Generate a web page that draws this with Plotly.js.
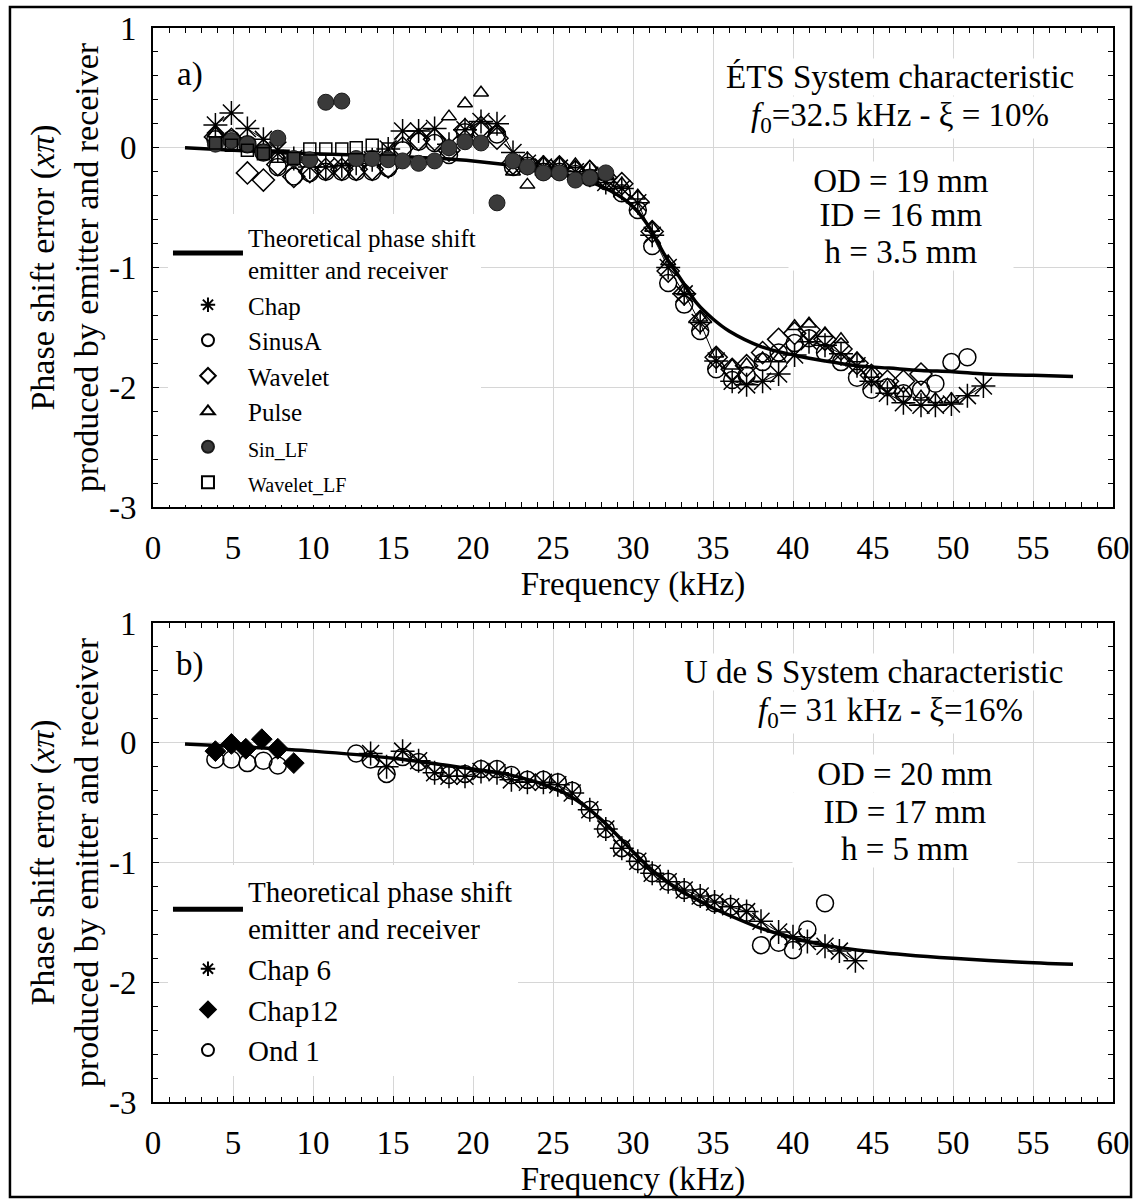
<!DOCTYPE html>
<html>
<head>
<meta charset="utf-8">
<script src="https://cdn.plot.ly/plotly-3.0.1.min.js"></script>
<style>
  html, body { margin: 0; padding: 0; background: #fff; }
  #chart { width: 1139px; height: 1199px; }
</style>
</head>
<body>
<div id="chart"></div>
<script>
// ---------- a) ÉTS system ----------
const theoryAX = [2, 5, 10, 15, 18, 20, 22, 24, 26, 27, 28, 29, 30, 31, 32, 33, 34, 35, 36, 38, 40, 42, 44, 46, 48, 50, 52, 55, 57.5];
const theoryAY = [0.00, -0.02, -0.05, -0.07, -0.09, -0.11, -0.14, -0.18, -0.23, -0.27, -0.32, -0.39, -0.49, -0.66, -0.90, -1.10, -1.30, -1.43, -1.53, -1.66, -1.73, -1.78, -1.82, -1.84, -1.86, -1.87, -1.89, -1.90, -1.91];

const chapX = [3.9, 4.9, 5.9, 6.9, 7.8, 8.8, 9.8, 10.8, 11.8, 12.7, 13.7, 14.7, 15.6, 16.6, 17.6, 18.5, 19.5, 20.5, 21.5, 22.5, 23.4, 24.4, 25.4, 26.4, 27.3, 28.3, 29.3, 30.3, 31.2, 32.2, 33.2, 34.2, 35.2, 36.2, 37.1, 38.1, 39.1, 40.1, 41.0, 42.0, 43.0, 44.0, 44.9, 45.9, 46.9, 48.0, 48.9, 49.9, 50.9, 51.9];
const chapY = [0.19, 0.29, 0.16, 0.07, -0.02, -0.09, -0.16, -0.16, -0.15, -0.13, -0.10, -0.01, 0.14, 0.14, 0.16, 0.03, 0.15, 0.22, 0.20, -0.04, -0.13, -0.16, -0.17, -0.20, -0.23, -0.29, -0.34, -0.46, -0.73, -1.00, -1.22, -1.46, -1.78, -1.95, -1.98, -1.95, -1.89, -1.73, -1.62, -1.65, -1.72, -1.82, -1.95, -2.05, -2.13, -2.15, -2.15, -2.14, -2.07, -1.99];

const sinusAX = [3.9, 4.9, 5.9, 6.9, 7.8, 8.8, 9.8, 10.8, 11.8, 12.7, 13.7, 14.7, 15.6, 16.6, 17.6, 18.5, 19.5, 20.5, 21.5, 22.5, 23.4, 24.4, 25.4, 26.4, 27.3, 28.3, 29.3, 30.3, 31.2, 32.2, 33.2, 34.2, 35.2, 36.2, 37.1, 38.1, 39.1, 40.1, 41.0, 42.0, 43.0, 44.0, 44.9, 45.9, 46.9, 48.0, 48.9, 49.9, 50.9];
const sinusAY = [0.07, 0.07, 0.03, -0.04, -0.16, -0.24, -0.21, -0.20, -0.20, -0.20, -0.20, -0.17, -0.02, 0.05, 0.04, -0.06, 0.13, 0.14, 0.11, -0.16, -0.15, -0.20, -0.20, -0.22, -0.25, -0.28, -0.38, -0.52, -0.82, -1.13, -1.31, -1.53, -1.85, -1.94, -1.90, -1.79, -1.71, -1.63, -1.59, -1.71, -1.79, -1.92, -2.02, -2.00, -2.05, -2.02, -1.97, -1.79, -1.75];

const waveletX = [3.9, 4.9, 5.9, 6.9, 7.8, 8.8, 9.8, 10.8, 11.8, 12.7, 13.7, 14.7, 15.6, 16.6, 17.6, 18.5, 19.5, 20.5, 21.5, 22.5, 23.4, 24.4, 25.4, 26.4, 27.3, 28.3, 29.3, 30.3, 31.2, 32.2, 33.2, 34.2, 35.2, 36.2, 37.1, 38.1, 39.1, 40.1, 41.0, 42.0, 43.0, 44.0, 44.9, 45.9, 46.9, 48.0];
const waveletY = [0.09, 0.07, -0.21, -0.27, -0.14, -0.24, -0.20, -0.18, -0.18, -0.18, -0.18, -0.16, 0.00, 0.07, 0.07, -0.02, 0.15, 0.17, 0.08, -0.13, -0.13, -0.16, -0.16, -0.20, -0.20, -0.25, -0.30, -0.45, -0.70, -1.03, -1.22, -1.45, -1.75, -1.85, -1.82, -1.71, -1.60, -1.55, -1.52, -1.60, -1.68, -1.80, -1.90, -1.95, -1.95, -1.89];

const pulseX = [3.9, 18.5, 19.5, 20.5, 21.5, 22.5, 23.4, 24.4, 25.4, 26.4, 27.3, 28.3, 29.3, 30.3, 31.2, 32.2, 33.2, 34.2, 35.2, 36.2, 37.1, 38.1, 39.1, 40.1, 41.0, 42.0, 43.0, 44.0, 44.9, 45.9, 46.9, 48.0, 48.9, 49.9];
const pulseY = [0.12, 0.26, 0.37, 0.46, 0.15, -0.20, -0.31, -0.13, -0.13, -0.14, -0.16, -0.24, -0.30, -0.40, -0.67, -0.95, -1.20, -1.42, -1.72, -1.82, -1.81, -1.76, -1.76, -1.49, -1.47, -1.55, -1.60, -1.76, -1.89, -1.98, -2.05, -2.08, -2.10, -2.10];

const sinLFX = [3.9, 4.9, 5.9, 6.9, 7.8, 8.8, 9.8, 10.8, 11.8, 12.7, 13.7, 14.7, 15.6, 16.6, 17.6, 18.5, 19.5, 20.5, 21.5, 22.5, 23.4, 24.4, 25.4, 26.4, 27.3, 28.3];
const sinLFY = [0.03, 0.06, 0.03, -0.04, 0.08, -0.09, -0.10, 0.38, 0.39, -0.09, -0.09, -0.10, -0.11, -0.13, -0.11, 0.00, 0.05, 0.04, -0.46, -0.11, -0.16, -0.21, -0.21, -0.27, -0.25, -0.21];

const waveletLFX = [3.9, 4.9, 5.9, 6.9, 7.8, 8.8, 9.8, 10.8, 11.8, 12.7, 13.7, 14.7];
const waveletLFY = [0.04, 0.02, -0.02, -0.05, -0.07, -0.09, -0.01, -0.01, -0.01, 0.00, 0.02, -0.01];

// ---------- b) U de S system ----------
const theoryBX = [2, 5, 10, 15, 20, 22, 24, 25, 26, 27, 28, 29, 30, 31, 32, 33, 34, 35, 36, 38, 40, 42, 44, 47, 50, 54, 57.5];
const theoryBY = [-0.01, -0.03, -0.07, -0.13, -0.22, -0.26, -0.33, -0.38, -0.44, -0.53, -0.64, -0.77, -0.91, -1.04, -1.15, -1.24, -1.31, -1.38, -1.44, -1.55, -1.63, -1.69, -1.73, -1.77, -1.80, -1.83, -1.85];

const chap6X = [13.6, 14.6, 15.6, 16.6, 17.6, 18.5, 19.5, 20.5, 21.5, 22.4, 23.4, 24.4, 25.3, 26.2, 27.3, 28.3, 29.3, 30.3, 31.2, 32.2, 33.2, 34.2, 35.1, 36.1, 37.1, 38.0, 39.1, 40.0, 40.9, 42.0, 42.9, 43.9];
const chap6Y = [-0.09, -0.20, -0.07, -0.15, -0.25, -0.28, -0.28, -0.24, -0.25, -0.31, -0.33, -0.33, -0.35, -0.42, -0.56, -0.72, -0.88, -0.99, -1.09, -1.16, -1.23, -1.28, -1.33, -1.37, -1.41, -1.49, -1.58, -1.62, -1.66, -1.70, -1.74, -1.82];

const chap12X = [3.9, 4.9, 5.8, 6.8, 7.8, 8.8];
const chap12Y = [-0.07, -0.01, -0.05, 0.03, -0.05, -0.17];

const ond1X = [3.9, 4.9, 5.9, 6.9, 7.8, 12.7, 13.6, 14.6, 15.6, 16.6, 17.6, 18.5, 19.5, 20.5, 21.5, 22.4, 23.4, 24.4, 25.3, 26.2, 27.3, 28.3, 29.3, 30.3, 31.2, 32.2, 33.2, 34.2, 35.1, 36.1, 37.1, 38.0, 39.1, 40.0, 40.9, 42.0];
const ond1Y = [-0.14, -0.14, -0.17, -0.15, -0.19, -0.09, -0.14, -0.26, -0.12, -0.16, -0.24, -0.27, -0.26, -0.22, -0.22, -0.27, -0.31, -0.31, -0.33, -0.40, -0.56, -0.72, -0.88, -0.99, -1.09, -1.16, -1.23, -1.29, -1.34, -1.37, -1.42, -1.69, -1.67, -1.73, -1.56, -1.34];

// ---------- axis ticks ----------
const xTickVals = [0, 5, 10, 15, 20, 25, 30, 35, 40, 45, 50, 55, 60];
const xTickText = ['0', '5', '10', '15', '20', '25', '30', '35', '40', '45', '50', '55', '60'];
const yTickVals = [-3, -2, -1, 0, 1];
const yTickText = ['-3', '-2', '-1', '0', '1'];

const FONT = '"Liberation Serif", "Times New Roman", serif';
const INK = '#000';

function xAxis(anchor) {
  return {
    anchor: anchor, domain: [0, 1], range: [0, 60],
    tickmode: 'array', tickvals: xTickVals, ticktext: xTickText,
    ticks: 'inside', ticklen: 6, tickwidth: 1, tickcolor: INK,
    ticklabelstandoff: 10,
    minor: { tick0: 0, dtick: 1, ticks: 'inside', ticklen: 5, tickwidth: 1, tickcolor: INK, showgrid: false },
    showline: true, linecolor: INK, linewidth: 2, mirror: 'allticks',
    showgrid: true, gridcolor: '#d6d6d6', gridwidth: 1, zeroline: false,
    tickfont: { family: FONT, size: 33, color: INK },
    title: { text: 'Frequency (kHz)', font: { family: FONT, size: 33, color: INK }, standoff: 0 }
  };
}
function yAxis(anchor, domain) {
  return {
    anchor: anchor, domain: domain, range: [-3, 1],
    tickmode: 'array', tickvals: yTickVals, ticktext: yTickText,
    ticks: 'inside', ticklen: 6, tickwidth: 1, tickcolor: INK,
    ticklabelstandoff: 8,
    minor: { tick0: 0, dtick: 0.2, ticks: 'inside', ticklen: 5, tickwidth: 1, tickcolor: INK, showgrid: false },
    showline: true, linecolor: INK, linewidth: 2, mirror: 'allticks',
    showgrid: true, gridcolor: '#d6d6d6', gridwidth: 1, zeroline: false,
    tickfont: { family: FONT, size: 33, color: INK },
    title: {
      text: 'Phase shift error (<i>xπ</i>)<br>produced by emitter and receiver',
      font: { family: FONT, size: 34, color: INK }, standoff: 0
    }
  };
}

// hollow symbols take their outline colour from marker.color
const hollow = (symbol, size) => ({ symbol: symbol, size: size, color: INK, line: { color: INK, width: 1.5 } });

const traces = [
  // a)
  { x: theoryAX, y: theoryAY, xaxis: 'x', yaxis: 'y', mode: 'lines', line: { color: INK, width: 3.5, shape: 'spline' },
    name: 'Theoretical phase shift<br>emitter and receiver', legend: 'legend' },
  { x: chapX, y: chapY, xaxis: 'x', yaxis: 'y', mode: 'lines', line: { color: INK, width: 1 }, showlegend: false, hoverinfo: 'skip' },
  { x: chapX, y: chapY, xaxis: 'x', yaxis: 'y', mode: 'markers', marker: hollow('asterisk-open', 20), name: 'Chap', legend: 'legend' },
  { x: sinusAX, y: sinusAY, xaxis: 'x', yaxis: 'y', mode: 'markers', marker: hollow('circle-open', 17), name: 'SinusA', legend: 'legend' },
  { x: waveletX, y: waveletY, xaxis: 'x', yaxis: 'y', mode: 'markers', marker: hollow('diamond-open', 17), name: 'Wavelet', legend: 'legend' },
  { x: pulseX, y: pulseY, xaxis: 'x', yaxis: 'y', mode: 'markers', marker: hollow('triangle-up-open', 13), name: 'Pulse', legend: 'legend' },
  { x: sinLFX, y: sinLFY, xaxis: 'x', yaxis: 'y', mode: 'markers',
    marker: { symbol: 'circle', size: 16, color: '#3a3a3a', line: { color: '#1a1a1a', width: 1 } },
    name: '<span style="font-size:20px">Sin_LF</span>', legend: 'legend' },
  { x: waveletLFX, y: waveletLFY, xaxis: 'x', yaxis: 'y', mode: 'markers', marker: hollow('square-open', 12),
    name: '<span style="font-size:20px">Wavelet_LF</span>', legend: 'legend' },
  // b)
  { x: theoryBX, y: theoryBY, xaxis: 'x2', yaxis: 'y2', mode: 'lines', line: { color: INK, width: 3.5, shape: 'spline' },
    name: 'Theoretical phase shift<br>emitter and receiver', legend: 'legend2' },
  { x: chap6X, y: chap6Y, xaxis: 'x2', yaxis: 'y2', mode: 'lines', line: { color: INK, width: 1 }, showlegend: false, hoverinfo: 'skip' },
  { x: chap6X, y: chap6Y, xaxis: 'x2', yaxis: 'y2', mode: 'markers', marker: hollow('asterisk-open', 20), name: 'Chap 6', legend: 'legend2' },
  { x: chap12X, y: chap12Y, xaxis: 'x2', yaxis: 'y2', mode: 'markers',
    marker: { symbol: 'diamond', size: 16, color: INK, line: { color: INK, width: 1 } }, name: 'Chap12', legend: 'legend2' },
  { x: ond1X, y: ond1Y, xaxis: 'x2', yaxis: 'y2', mode: 'markers', marker: hollow('circle-open', 17), name: 'Ond 1', legend: 'legend2' }
];

function note(text, x, y, ref, opts) {
  return Object.assign({
    text: text, x: x, y: y, xref: 'x' + ref, yref: 'y' + ref, showarrow: false,
    xanchor: 'center', yanchor: 'middle', bgcolor: '#fff', borderpad: 0,
    font: { family: FONT, size: 33, color: INK }
  }, opts || {});
}

const annotations = [
  note('a)', 2.3, 0.61, '', { bgcolor: 'rgba(0,0,0,0)' }),
  note('ÉTS System characteristic', 46.7, 0.59, ''),
  note('<i>f</i><sub>0</sub>=32.5 kHz - ξ = 10%', 46.7, 0.25, ''),
  note('OD = 19 mm', 46.75, -0.27, '', { width: 224, height: 37 }),
  note('ID = 16 mm', 46.75, -0.56, '', { width: 224, height: 37 }),
  note('h = 3.5 mm', 46.75, -0.87, '', { width: 224, height: 37 }),

  note('b)', 2.3, 0.65, '2', { bgcolor: 'rgba(0,0,0,0)' }),
  note('U de S System characteristic', 45.0, 0.59, '2'),
  note('<i>f</i><sub>0</sub>= 31 kHz - ξ=16%', 46.1, 0.25, '2'),
  note('OD = 20 mm', 47.0, -0.26, '2', { width: 224, height: 37 }),
  note('ID = 17 mm', 47.0, -0.57, '2', { width: 224, height: 37 }),
  note('h = 5 mm', 47.0, -0.88, '2', { width: 224, height: 37 })
];

const layout = {
  width: 1139, height: 1199,
  margin: { l: 153, r: 26, t: 28, b: 97 },
  paper_bgcolor: '#fff', plot_bgcolor: '#fff',
  font: { family: FONT, color: INK },
  xaxis: xAxis('y'),
  yaxis: yAxis('x', [0.554, 1]),
  xaxis2: xAxis('y2'),
  yaxis2: yAxis('x2', [0, 0.446]),
  legend: {
    x: 0.0156, y: 0.8268, xanchor: 'left', yanchor: 'top',
    bgcolor: '#fff', borderwidth: 0, itemsizing: 'constant', itemwidth: 70, tracegroupgap: 0,
    font: { family: FONT, size: 25, color: INK }
  },
  legend2: {
    x: 0.0156, y: 0.2207, xanchor: 'left', yanchor: 'top',
    bgcolor: '#fff', borderwidth: 0, itemsizing: 'constant', itemwidth: 70, tracegroupgap: 0,
    font: { family: FONT, size: 29, color: INK }
  },
  annotations: annotations,
  shapes: [{
    type: 'rect', xref: 'paper', yref: 'paper',
    x0: -0.149, x1: 1.0188, y0: -0.0885, y1: 1.0196,
    line: { color: INK, width: 2.5 }, fillcolor: 'rgba(0,0,0,0)'
  }],
  showlegend: true
};

Plotly.newPlot('chart', traces, layout, { staticPlot: true, displayModeBar: false });
</script>
</body>
</html>
